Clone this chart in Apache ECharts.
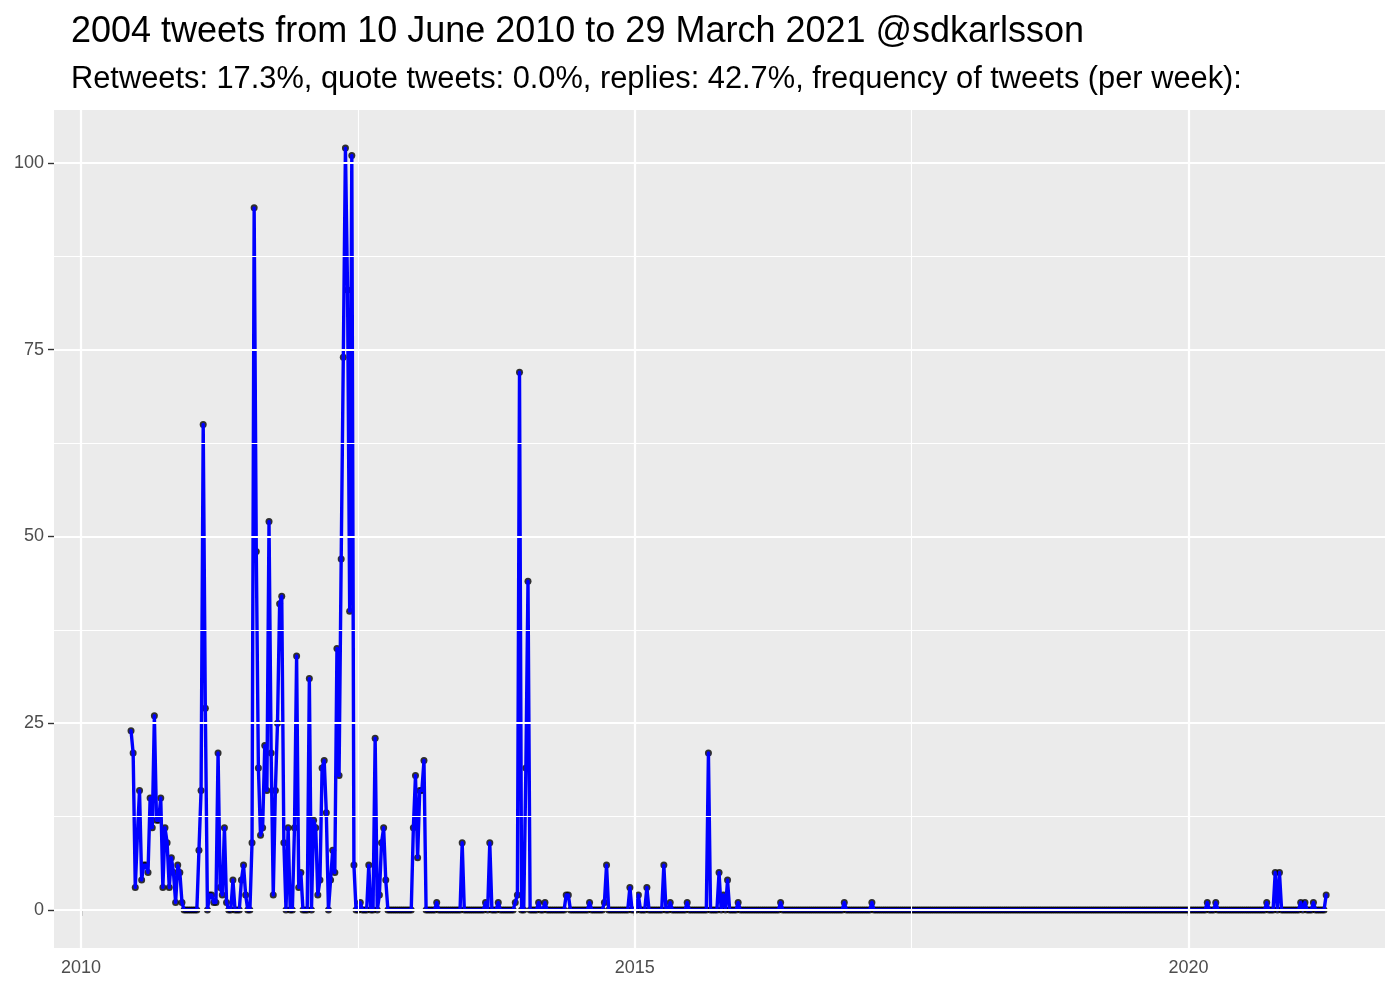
<!DOCTYPE html>
<html><head><meta charset="utf-8">
<script src="https://cdn.jsdelivr.net/npm/echarts@6/dist/echarts.min.js"></script>
<style>html,body{margin:0;padding:0;background:#fff}#c{width:1400px;height:1000px}</style>
</head><body><div id="c"></div>
<script>
const titleText = '2004 tweets from 10 June 2010 to 29 March 2021 @sdkarlsson';
const subtitleText = 'Retweets: 17.3%, quote tweets: 0.0%, replies: 42.7%, frequency of tweets (per week):';
const firstWeek = '2010-06-15';
// tweets per week, one value per week starting at firstWeek
const weeklyTweets = [
24,21,3,10,16,4,6,6,5,15,11,26,12,12,15,3,11,9,3,7,
5,1,6,5,1,0,0,0,0,0,0,0,8,16,65,27,0,2,2,1,
1,21,3,2,11,1,0,0,4,0,0,0,4,6,2,0,0,9,94,48,
19,10,11,22,16,52,21,2,16,25,41,42,9,0,11,0,0,11,34,3,
5,0,0,0,31,0,12,11,2,4,19,20,13,0,4,8,5,35,18,47,
74,102,83,40,101,6,0,0,1,0,0,0,6,0,0,23,0,2,9,11,
4,0,0,0,0,0,0,0,0,0,0,0,0,11,18,7,16,16,20,0,
0,0,0,0,1,0,0,0,0,0,0,0,0,0,0,0,9,0,0,0,
0,0,0,0,0,0,0,1,0,9,0,0,0,1,0,0,0,0,0,0,
0,1,2,72,0,0,19,44,0,0,0,0,1,0,0,1,0,0,0,0,
0,0,0,0,0,2,2,0,0,0,0,0,0,0,0,0,1,0,0,0,
0,0,0,1,6,0,0,0,0,0,0,0,0,0,0,3,0,0,0,2,
0,0,0,3,0,0,0,0,0,0,0,6,0,0,1,0,0,0,0,0,
0,0,1,0,0,0,0,0,0,0,0,0,21,0,0,0,0,5,0,2,
0,4,0,0,0,0,1,0,0,0,0,0,0,0,0,0,0,0,0,0,
0,0,0,0,0,0,1,0,0,0,0,0,0,0,0,0,0,0,0,0,
0,0,0,0,0,0,0,0,0,0,0,0,0,0,0,0,1,0,0,0,
0,0,0,0,0,0,0,0,0,1,0,0,0,0,0,0,0,0,0,0,
0,0,0,0,0,0,0,0,0,0,0,0,0,0,0,0,0,0,0,0,
0,0,0,0,0,0,0,0,0,0,0,0,0,0,0,0,0,0,0,0,
0,0,0,0,0,0,0,0,0,0,0,0,0,0,0,0,0,0,0,0,
0,0,0,0,0,0,0,0,0,0,0,0,0,0,0,0,0,0,0,0,
0,0,0,0,0,0,0,0,0,0,0,0,0,0,0,0,0,0,0,0,
0,0,0,0,0,0,0,0,0,0,0,0,0,0,0,0,0,0,0,0,
0,0,0,0,0,0,0,0,0,0,0,0,0,0,0,0,0,0,0,0,
0,0,0,0,0,0,0,1,0,0,0,1,0,0,0,0,0,0,0,0,
0,0,0,0,0,0,0,0,0,0,0,0,0,0,0,1,0,0,0,5,
0,5,0,0,0,0,0,0,0,0,0,1,0,1,0,0,0,1,0,0,
0,0,0,2
];
const yTicks = [0, 25, 50, 75, 100];
const yMinor = [12.5, 37.5, 62.5, 87.5];
const xTickYears = ['2010-01-01', '2015-01-01', '2020-01-01'];
const xRange = ['2009-10-04', '2021-10-10'];
const yRange = [-5.1, 107.1];

const DAY = 86400000;
const t0 = Date.parse(firstWeek + 'T00:00:00Z');
const seriesData = weeklyTweets.map((v, i) => [t0 + i * 7 * DAY, v]);
const xTicks = xTickYears.map(d => Date.parse(d + 'T00:00:00Z'));
const xMinor = [];
for (let k = 0; k < xTicks.length - 1; k++) xMinor.push((xTicks[k] + xTicks[k + 1]) / 2);

const FONT = '"Liberation Sans", Arial, Helvetica, sans-serif';
const grid = [];
yTicks.forEach(v => grid.push({ yAxis: v, lineStyle: { width: 2.2 } }));
yMinor.forEach(v => grid.push({ yAxis: v, lineStyle: { width: 1.1 } }));
xTicks.forEach(v => grid.push({ xAxis: v, lineStyle: { width: 2.2 } }));
xMinor.forEach(v => grid.push({ xAxis: v, lineStyle: { width: 1.1 } }));

const chart = echarts.init(document.getElementById('c'), null, { renderer: 'canvas' });
chart.setOption({
  animation: false,
  backgroundColor: '#ffffff',
  title: [
    { text: titleText, left: 71, top: 14, padding: 0,
      textStyle: { fontFamily: FONT, fontSize: 36, fontWeight: 'normal', color: '#000' } },
    { text: subtitleText, left: 71, top: 64, padding: 0,
      textStyle: { fontFamily: FONT, fontSize: 30.8, fontWeight: 'normal', color: '#000' } }
  ],
  grid: { left: 54, right: 15, top: 110, bottom: 52, show: true,
          backgroundColor: '#EBEBEB', borderWidth: 0 },
  xAxis: {
    type: 'value',
    min: Date.parse(xRange[0] + 'T00:00:00Z'),
    max: Date.parse(xRange[1] + 'T00:00:00Z'),
    axisLine: { show: false },
    splitLine: { show: false },
    axisTick: { show: true, customValues: xTicks, length: 6, lineStyle: { color: '#333333', width: 1.4 } },
    axisLabel: { customValues: xTicks, formatter: v => String(new Date(v).getUTCFullYear()),
                 color: '#4D4D4D', fontSize: 18, fontFamily: FONT, margin: 11 }
  },
  yAxis: {
    type: 'value', min: yRange[0], max: yRange[1],
    axisLine: { show: false },
    splitLine: { show: false },
    axisTick: { show: true, customValues: yTicks, length: 6, lineStyle: { color: '#333333', width: 1.4 } },
    axisLabel: { customValues: yTicks, color: '#4D4D4D', fontSize: 18, fontFamily: FONT, margin: 10 }
  },
  series: [
    { type: 'line', data: [], silent: true, z: 1,
      markLine: { silent: true, symbol: ['none', 'none'], label: { show: false },
                  lineStyle: { color: '#ffffff', type: 'solid', width: 2 }, data: grid, animation: false } },
    { type: 'scatter', data: seriesData, symbol: 'circle', symbolSize: 7, silent: true, z: 3,
      itemStyle: { color: '#000000' } },
    { type: 'line', data: seriesData, showSymbol: false, silent: true, z: 4,
      lineStyle: { color: '#0000FF', width: 3.4, cap: 'round', join: 'round' } }
  ]
});
</script></body></html>
